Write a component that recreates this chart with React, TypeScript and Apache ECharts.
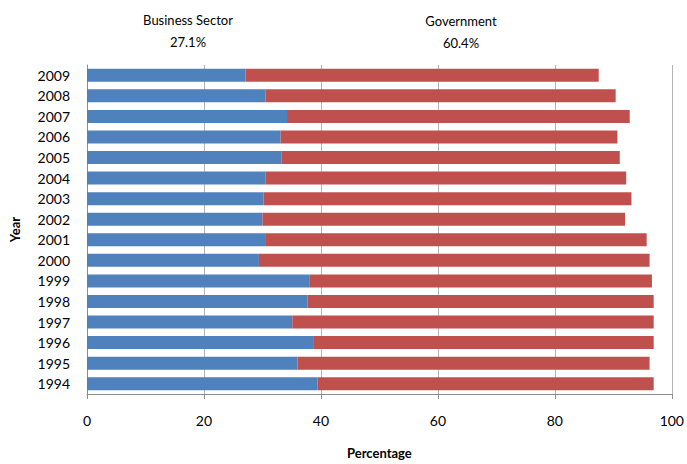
import React, { useEffect, useRef } from "react";
import * as echarts from "echarts";

const years = ["1994","1995","1996","1997","1998","1999","2000","2001","2002","2003","2004","2005","2006","2007","2008","2009"];
const business = [39.4, 36.0, 38.8, 35.1, 37.7, 38.0, 29.4, 30.6, 30.0, 30.2, 30.5, 33.3, 33.1, 34.2, 30.5, 27.1];
const government = [57.5, 60.2, 58.1, 61.8, 59.2, 58.6, 66.8, 65.1, 62.0, 62.9, 61.7, 57.8, 57.6, 58.6, 59.9, 60.4];
const seriesNames = ["Business Sector", "Government"];
const xTicks = [0, 20, 40, 60, 80, 100];

const FONT = "Lato";

export default function App() {
  const ref = useRef<HTMLDivElement>(null);
  useEffect(() => {
    if (!ref.current) return;
    const chart = echarts.init(ref.current, null, { renderer: "svg" });
    const last = years.length - 1;
    chart.setOption({
      animation: false,
      textStyle: { fontFamily: FONT },
      grid: { left: 86.5, right: 13.5, top: 65, bottom: 59, containLabel: false },
      xAxis: {
        type: "value",
        min: xTicks[0],
        max: xTicks[xTicks.length - 1],
        interval: 20,
        name: "Percentage",
        nameLocation: "middle",
        nameGap: 52,
        nameTextStyle: { fontFamily: FONT, fontSize: 13, fontWeight: "bold", color: "#000" },
        axisLine: { show: true, lineStyle: { color: "#8c8c8c", width: 1 } },
        axisTick: { show: true, length: 5, lineStyle: { color: "#8c8c8c" } },
        axisLabel: { color: "#000", fontSize: 14, fontFamily: FONT, margin: 19 },
        splitLine: { show: true, lineStyle: { color: "#b4b4b4", width: 1 } },
      },
      yAxis: {
        type: "category",
        data: years,
        name: "Year",
        nameLocation: "middle",
        nameGap: 66,
        nameRotate: 90,
        nameTextStyle: { fontFamily: FONT, fontSize: 13, fontWeight: "bold", color: "#000" },
        axisLine: { show: true, lineStyle: { color: "#8c8c8c", width: 1 } },
        axisTick: { show: false },
        axisLabel: { color: "#000", fontSize: 14, fontFamily: FONT, margin: 17 },
        splitLine: { show: false },
      },
      series: [
        { name: seriesNames[0], type: "bar", stack: "total", data: business, barWidth: 13, itemStyle: { color: "#4F81BD" } },
        { name: seriesNames[1], type: "bar", stack: "total", data: government, barWidth: 13, itemStyle: { color: "#C0504D" } },
      ],
      graphic: [
        {
          type: "text", x: 188, y: 31,
          style: { text: seriesNames[0] + "\n" + business[last].toFixed(1) + "%", fontFamily: FONT, fontSize: 13, fill: "#000", align: "center", verticalAlign: "middle", lineHeight: 22 },
        },
        {
          type: "text", x: 461, y: 32,
          style: { text: seriesNames[1] + "\n" + government[last].toFixed(1) + "%", fontFamily: FONT, fontSize: 13, fill: "#000", align: "center", verticalAlign: "middle", lineHeight: 22 },
        },
      ],
    });
    return () => chart.dispose();
  }, []);
  return <div ref={ref} style={{ width: 687, height: 464, position: "absolute", left: 0, top: 0 }} />;
}
